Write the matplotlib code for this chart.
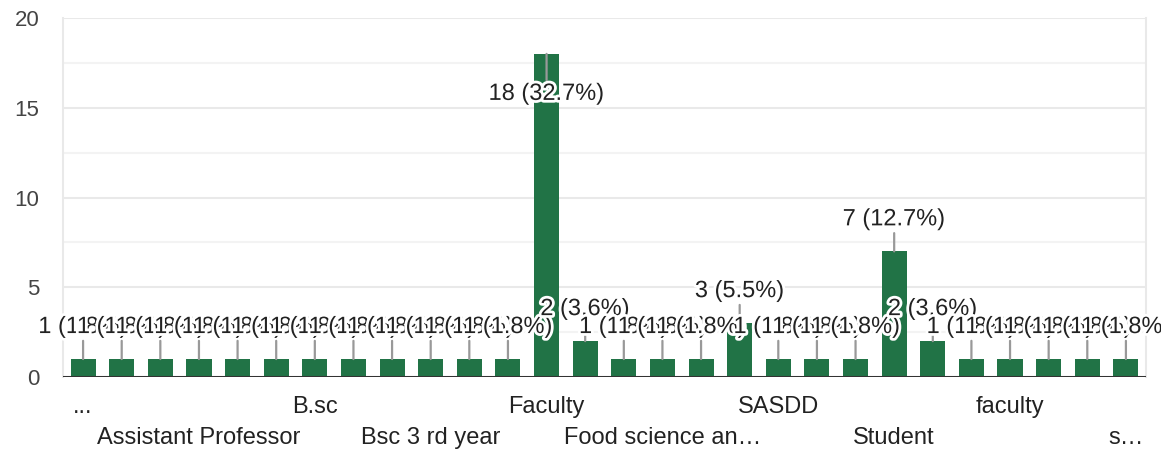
import numpy as np
import matplotlib.pyplot as plt
import matplotlib.patheffects as pe

plt.rcParams['font.family'] = ['Liberation Sans', 'DejaVu Sans']

# answer counts, one per category (only every third name is shown on the axis)
counts = [1, 1, 1, 1, 1, 1, 1, 1, 1, 1, 1, 1,
          18, 2, 1, 1, 1, 3, 1, 1, 1, 7, 2, 1, 1, 1, 1, 1]
shown_labels = {0: "...", 3: "Assistant Professor", 6: "B.sc", 9: "Bsc 3 rd year",
                12: "Faculty", 15: "Food science an\u2026", 18: "SASDD",
                21: "Student", 24: "faculty", 27: "s\u2026"}
yticks = [0, 5, 10, 15, 20]

counts = np.array(counts)
total = counts.sum()
x = np.arange(len(counts))

fig = plt.figure(figsize=(11.61, 4.53), dpi=100)
ax = fig.add_axes([63 / 1161, 1 - 377 / 453, (1146 - 63) / 1161, (377 - 18) / 453])

ax.set_xlim(-0.52, len(counts) - 0.48)
ax.set_ylim(0, 20)

# grid
for v in np.arange(2.5, 20, 5):
    ax.axhline(v, color='#f3f3f3', lw=1.5, zorder=0)
for v in yticks[1:]:
    ax.axhline(v, color='#e9e9e9', lw=1.5, zorder=0)

ax.bar(x, counts, width=0.65, color='#217346', zorder=2)
ax.axhline(0, color='#333333', lw=2.2, zorder=3)

for s in ['top', 'bottom']:
    ax.spines[s].set_visible(False)
for s in ['left', 'right']:
    ax.spines[s].set_color('#e9e9e9')
    ax.spines[s].set_linewidth(1.5)

ax.set_yticks(yticks)
ax.tick_params(axis='y', length=0, pad=17, labelsize=16, labelcolor='#444444')

pos = sorted(shown_labels)
labs = []
for k, p in enumerate(pos):
    labs.append(shown_labels[p] if k % 2 == 0 else "\n" + shown_labels[p])
ax.set_xticks(pos, labs)
ax.tick_params(axis='x', length=0, pad=14, labelsize=17, labelcolor='#222222')
for t in ax.get_xticklabels():
    t.set_linespacing(1.5)

# value labels with stems
for i, c in enumerate(counts):
    rise = -40 if c == counts.max() else 32
    ax.annotate(f"{c} ({100 * c / total:.1f}%)", xy=(i, c), xytext=(0, rise),
                textcoords='offset pixels', ha='center', va='center',
                fontsize=17, color='#222222', zorder=4 + i, annotation_clip=False,
                path_effects=[pe.withStroke(linewidth=4, foreground='white')],
                arrowprops=dict(arrowstyle='-', color='#999999', lw=1.6,
                                shrinkA=0, shrinkB=0))

plt.savefig("out.png", dpi=100)
